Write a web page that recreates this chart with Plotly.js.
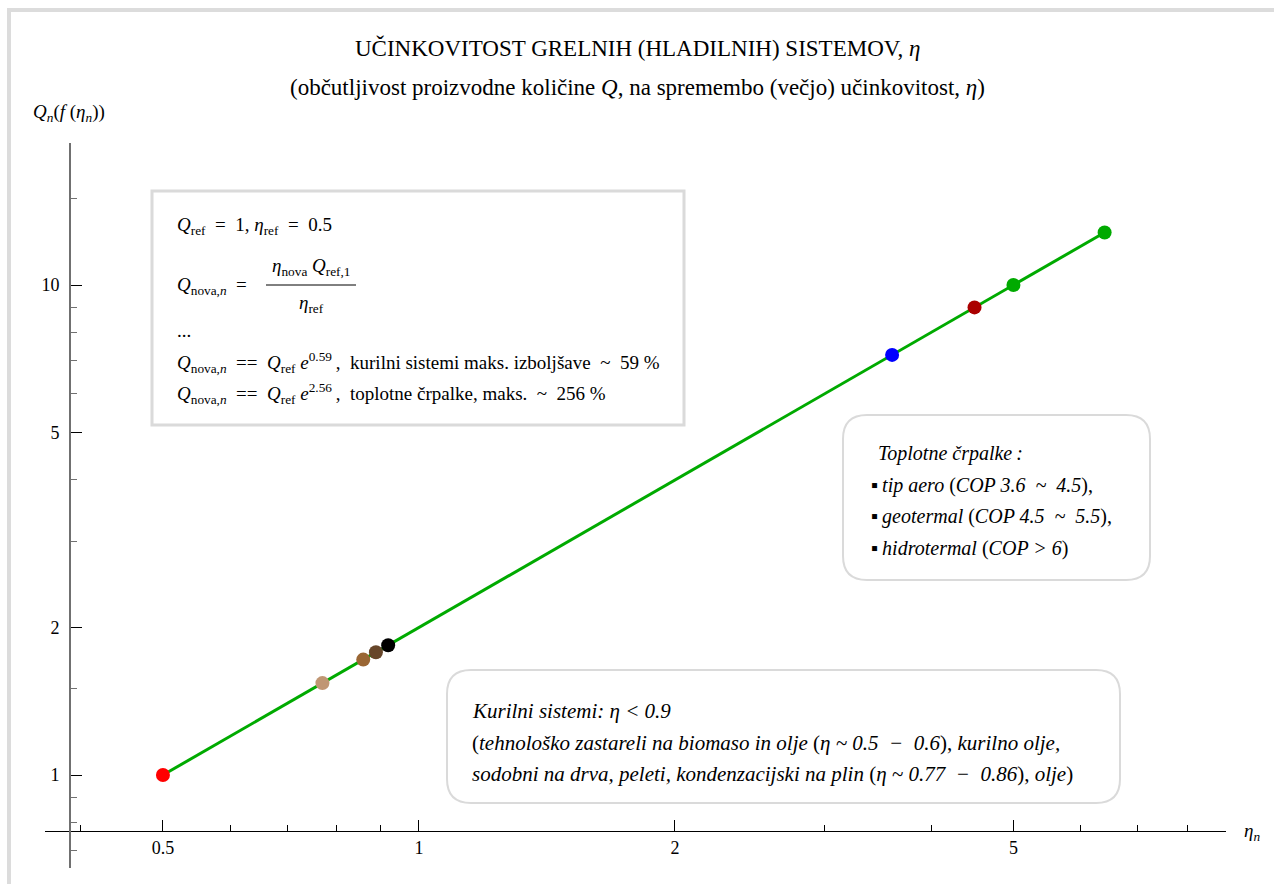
<!DOCTYPE html>
<html>
<head>
<meta charset="utf-8">
<script src="https://cdn.plot.ly/plotly-3.0.1.min.js"></script>
<style>
  html, body { margin: 0; padding: 0; background: #ffffff; }
  #chart { width: 1274px; height: 884px; }
</style>
</head>
<body>
<div id="chart"></div>
<script>
// Efficiency of heating systems and the resulting output quantity
const eta = [0.5, 0.77, 0.86, 0.89, 0.92, 3.6, 4.5, 5, 6.4];
const Q = [1, 1.54, 1.72, 1.78, 1.84, 7.2, 9, 10, 12.8];
const pointColors = ['#ff0000', '#c09673', '#9a6634', '#67462a', '#000000',
                     '#0000ff', '#aa0000', '#00aa00', '#00aa00'];

const xTickVals = [0.5, 1, 2, 5];
const xTickText = ['0.5', '1', '2', '5'];
const xMinorVals = [0.4, 0.6, 0.7, 0.8, 0.9, 3, 4, 6, 7, 8];
const yTickVals = [1, 2, 5, 10];
const yTickText = ['1', '2', '5', '10'];
const yMinorVals = [0.7, 0.8, 0.9, 1.5, 3, 4, 6, 7, 8, 9, 15];

// page geometry
const W = 1274, H = 884;
const M = { l: 45, r: 48, t: 143, b: 16 };
const PW = W - M.l - M.r, PH = H - M.t - M.b;
const px = x => (x - M.l) / PW;
const py = y => (H - M.b - y) / PH;

const SERIF = '"Liberation Serif", "Times New Roman", Times, serif';
const BOXLINE = '#dadada';
const SP = '\u2002';   // wide space around operators
const TH = '\u2009';   // thin space

function roundedBox(x0, y0, x1, y1, r) {
  const a = px(x0), b = px(x1), c = py(y0), d = py(y1);
  const rx = r / PW, ry = r / PH;
  const path = [
    'M', a + rx, c,
    'L', b - rx, c,
    'Q', b, c, b, c - ry,
    'L', b, d + ry,
    'Q', b, d, b - rx, d,
    'L', a + rx, d,
    'Q', a, d, a, d + ry,
    'L', a, c - ry,
    'Q', a, c, a + rx, c, 'Z'
  ].join(' ');
  return { type: 'path', xref: 'paper', yref: 'paper', path: path,
           line: { color: BOXLINE, width: 2 }, fillcolor: '#ffffff', layer: 'below' };
}

function font(size) { return { family: SERIF, size: size, color: '#000000' }; }

function label(x, y, text, opts) {
  return Object.assign({
    xref: 'paper', yref: 'paper', x: px(x), y: py(y), text: text,
    showarrow: false, xanchor: 'left', yanchor: 'middle', font: font(18)
  }, opts || {});
}

const traces = [
  {
    x: eta, y: Q, type: 'scatter', mode: 'lines',
    line: { color: '#00aa00', width: 3 }, hoverinfo: 'skip'
  },
  {
    x: eta, y: Q, type: 'scatter', mode: 'markers',
    marker: { color: pointColors, size: 14 }
  }
];

const boxFont = font(19);
const hpFont = font(20);
const kuFont = font(21);

const annotations = [
  label(637, 48, 'UČINKOVITOST GRELNIH (HLADILNIH) SISTEMOV, <i>η</i>',
        { xanchor: 'center', font: font(23) }),
  label(637, 87, '(občutljivost proizvodne količine <i>Q</i>, na spremembo (večjo) učinkovitost, <i>η</i>)',
        { xanchor: 'center', font: font(23) }),
  label(31, 113, '<i>Q<sub>n</sub></i>(<i>f</i> (<i>η<sub>n</sub></i>))', { font: font(19) }),
  label(1242, 832, '<i>η<sub>n</sub></i>', { font: font(19) }),

  // formula box
  label(175, 226, '<i>Q</i><sub>ref</sub>' + SP + '=' + SP + '1, <i>η</i><sub>ref</sub>' + SP + '=' + SP + '0.5', { font: boxFont }),
  label(175, 286, '<i>Q</i><sub>nova,<i>n</i></sub>' + SP + '=', { font: boxFont }),
  label(311, 267, '<i>η</i><sub>nova</sub> <i>Q</i><sub>ref,1</sub>', { xanchor: 'center', font: boxFont }),
  label(311, 304, '<i>η</i><sub>ref</sub>', { xanchor: 'center', font: boxFont }),
  label(175, 330, '...', { font: boxFont }),
  label(175, 362, '<i>Q</i><sub>nova,<i>n</i></sub>' + SP + '==' + SP + '<i>Q</i><sub>ref</sub> <i>e</i><sup>0.59</sup>' + TH + ',' + SP + 'kurilni sistemi maks. izboljšave' + SP + '~' + SP + '59 %', { font: boxFont }),
  label(175, 393, '<i>Q</i><sub>nova,<i>n</i></sub>' + SP + '==' + SP + '<i>Q</i><sub>ref</sub> <i>e</i><sup>2.56</sup>' + TH + ',' + SP + 'toplotne črpalke, maks.' + SP + '~' + SP + '256 %', { font: boxFont }),

  // heat pump box
  label(876, 453, '<i>Toplotne črpalke' + TH + ':</i>', { font: hpFont }),
  label(869, 485, '▪' + TH + '<i>tip aero</i> (<i>COP 3.6' + SP + '~' + SP + '4.5</i>),', { font: hpFont }),
  label(869, 516, '▪' + TH + '<i>geotermal</i> (<i>COP 4.5' + SP + '~' + SP + '5.5</i>),', { font: hpFont }),
  label(869, 548, '▪' + TH + '<i>hidrotermal</i> (<i>COP &gt; 6</i>)', { font: hpFont }),

  // combustion box
  label(470, 711, '<i>Kurilni sistemi: η &lt; 0.9</i>', { font: kuFont }),
  label(470, 743, '(<i>tehnološko zastareli na biomaso in olje</i> (<i>η ~ 0.5' + SP + '−' + SP + '0.6</i>), <i>kurilno olje,</i>', { font: kuFont }),
  label(470, 774, '<i>sodobni na drva, peleti, kondenzacijski na plin</i> (<i>η ~ 0.77' + SP + '−' + SP + '0.86</i>), <i>olje</i>)', { font: kuFont })
];

const shapes = [
  // page frame (top and left edges)
  { type: 'rect', xref: 'paper', yref: 'paper', x0: px(7), x1: px(1274), y0: py(8), y1: py(12),
    line: { width: 0 }, fillcolor: '#dcdcdc', layer: 'below' },
  { type: 'rect', xref: 'paper', yref: 'paper', x0: px(7), x1: px(11), y0: py(8), y1: py(884),
    line: { width: 0 }, fillcolor: '#dcdcdc', layer: 'below' },
  // formula box
  { type: 'rect', xref: 'paper', yref: 'paper', x0: px(152), x1: px(684), y0: py(191), y1: py(425),
    line: { color: BOXLINE, width: 3 }, fillcolor: '#ffffff', layer: 'below' },
  // fraction bar
  { type: 'line', xref: 'paper', yref: 'paper', x0: px(266), x1: px(356), y0: py(285), y1: py(285),
    line: { color: '#000000', width: 1 } },
  roundedBox(843, 415, 1150, 580, 24),
  roundedBox(447, 670, 1120, 803, 24)
];

const layout = {
  width: W, height: H,
  margin: M,
  paper_bgcolor: '#ffffff', plot_bgcolor: 'rgba(0,0,0,0)',
  showlegend: false,
  font: font(18),
  xaxis: {
    type: 'log', range: [-0.4397, 0.9489],
    anchor: 'free', position: py(831),
    showgrid: false, zeroline: false,
    showline: true, linecolor: '#000000', linewidth: 1.3,
    tickmode: 'array', tickvals: xTickVals, ticktext: xTickText,
    ticks: 'inside', ticklen: 11, tickwidth: 1, tickcolor: '#000000',
    tickfont: font(18),
    minor: { tickmode: 'array', tickvals: xMinorVals, ticks: 'inside', ticklen: 6,
             tickwidth: 1, tickcolor: '#000000', showgrid: false }
  },
  yaxis: {
    type: 'log', range: [-0.1898, 1.2898],
    anchor: 'free', position: px(69),
    showgrid: false, zeroline: false,
    showline: true, linecolor: '#707070', linewidth: 1.6,
    tickmode: 'array', tickvals: yTickVals, ticktext: yTickText,
    ticks: 'inside', ticklen: 11, tickwidth: 1, tickcolor: '#000000',
    ticklabelstandoff: 6,
    tickfont: font(18),
    minor: { tickmode: 'array', tickvals: yMinorVals, ticks: 'inside', ticklen: 6,
             tickwidth: 1, tickcolor: '#707070', showgrid: false }
  },
  shapes: shapes,
  annotations: annotations
};

Plotly.newPlot('chart', traces, layout, { displayModeBar: false, staticPlot: true });
</script>
</body>
</html>
